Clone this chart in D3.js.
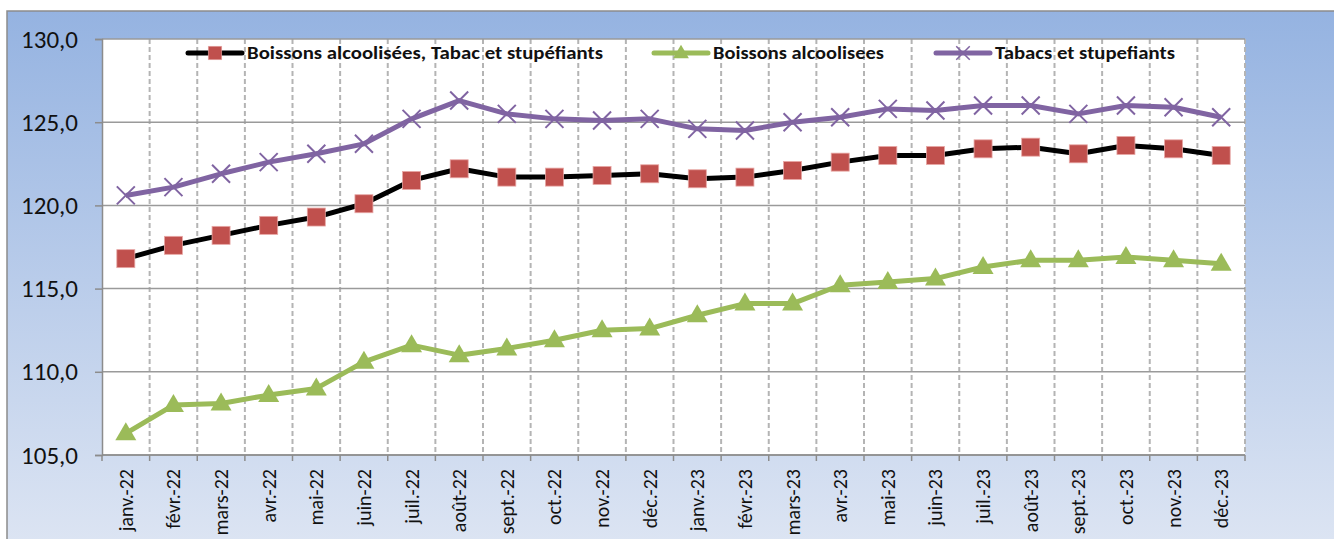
<!DOCTYPE html>
<html>
<head>
<meta charset="utf-8">
<script src="https://cdn.jsdelivr.net/npm/d3@7"></script>
<style>
  body { margin: 0; background: #fff; }
  svg { display: block; font-family: Carlito, Lato, "Open Sans", sans-serif; }
</style>
</head>
<body>
<div class="chart"></div>
<script>
const months = ["janv.-22","févr.-22","mars-22","avr.-22","mai-22","juin-22","juil.-22","août-22","sept.-22","oct.-22","nov.-22","déc.-22",
  "janv.-23","févr.-23","mars-23","avr.-23","mai-23","juin-23","juil.-23","août-23","sept.-23","oct.-23","nov.-23","déc.-23"]
const boissonsTabac = [116.8,117.6,118.2,118.8,119.3,120.1,121.5,122.2,121.7,121.7,121.8,121.9,121.6,121.7,122.1,122.6,123.0,123.0,123.4,123.5,123.1,123.6,123.4,123.0]
const boissons = [106.3,108.0,108.1,108.6,109.0,110.6,111.6,111.0,111.4,111.9,112.5,112.6,113.4,114.1,114.1,115.2,115.4,115.6,116.3,116.7,116.7,116.9,116.7,116.5]
const tabacs = [120.6,121.1,121.9,122.6,123.1,123.7,125.2,126.3,125.5,125.2,125.1,125.2,124.6,124.5,125.0,125.3,125.8,125.7,126.0,126.0,125.5,126.0,125.9,125.3]
const yTicks = [105,110,115,120,125,130]
const seriesNames = ["Boissons alcoolisées, Tabac et stupéfiants","Boissons alcoolisees","Tabacs et stupefiants"]

const W = 1334, H = 539
const margin = {top: 39, right: 89, bottom: 84, left: 102}
const width = W - margin.left - margin.right
const height = H - margin.top - margin.bottom

const svg = d3.select(".chart").append("svg").attr("width", W).attr("height", H)

const defs = svg.append("defs")
const grad = defs.append("linearGradient").attr("id","bg").attr("x1",0).attr("y1",0).attr("x2",0).attr("y2",1)
grad.append("stop").attr("offset","0%").attr("stop-color","#95b3e1")
grad.append("stop").attr("offset","100%").attr("stop-color","#dde5f3")

svg.append("rect").attr("x",7).attr("y",11).attr("width",W).attr("height",H)
  .attr("fill","url(#bg)").attr("stroke","#8c8c8c").attr("stroke-width",1.5)

const g = svg.append("g").attr("transform", `translate(${margin.left},${margin.top})`)

const x = d3.scaleBand().domain(months).range([0, width])
const y = d3.scaleLinear().domain([105,130]).range([height, 0])

g.append("rect").attr("width", width).attr("height", height).attr("fill","#fff")

// vertical dashed grid at category boundaries
g.selectAll(".vgrid").data(months).enter().append("line")
  .attr("x1", (d,i) => x.step()*(i+1)).attr("x2", (d,i) => x.step()*(i+1))
  .attr("y1", 0).attr("y2", height)
  .attr("stroke","#b4b4b4").attr("stroke-width",2).attr("stroke-dasharray","5,3")

// horizontal grid
g.selectAll(".hgrid").data(yTicks).enter().append("line")
  .attr("x1",0).attr("x2",width).attr("y1",d => y(d)).attr("y2",d => y(d))
  .attr("stroke","#9a9a9a").attr("stroke-width",1.5)

// y axis
const yAxis = g.append("g").call(d3.axisLeft(y).tickValues(yTicks).tickSize(7).tickPadding(17)
  .tickFormat(d => d3.format(".1f")(d).replace(".", ",")))
yAxis.select(".domain").attr("stroke","#8c8c8c").attr("stroke-width",1.5)
yAxis.selectAll(".tick line").attr("stroke","#8c8c8c").attr("stroke-width",1.5)
yAxis.selectAll("text").style("font-size","25px").style("fill","#111").style("font-family","Carlito, Lato, sans-serif")

// x axis with ticks at boundaries
const xAxis = g.append("g").attr("transform", `translate(0,${height})`)
xAxis.append("line").attr("x1",0).attr("x2",width).attr("stroke","#8c8c8c").attr("stroke-width",1.5)
xAxis.selectAll(".xt").data(d3.range(months.length + 1)).enter().append("line")
  .attr("x1", i => x.step()*i).attr("x2", i => x.step()*i).attr("y1",0).attr("y2",6)
  .attr("stroke","#8c8c8c").attr("stroke-width",1.5)
xAxis.selectAll(".xl").data(months).enter().append("text")
  .attr("transform", d => `translate(${x(d) + x.bandwidth()/2 + 7},14) rotate(-90)`)
  .attr("text-anchor","end")
  .style("font-size","20px").style("fill","#111")
  .text(d => d)

const line = d3.line().x((d,i) => x(months[i]) + x.bandwidth()/2).y(d => y(d))

function drawSeries(data, color, width_, marker) {
  g.append("path").datum(data).attr("d", line).attr("fill","none")
    .attr("stroke", color).attr("stroke-width", width_).attr("stroke-linejoin","round")
  const pts = g.append("g").selectAll("g").data(data).enter().append("g")
    .attr("transform", (d,i) => `translate(${x(months[i]) + x.bandwidth()/2},${y(d)})`)
  marker(pts)
}

const square = sel => sel.append("rect").attr("x",-9).attr("y",-9).attr("width",18).attr("height",18)
  .attr("fill","#c0504d").attr("stroke","#e8a7a5").attr("stroke-width",0.8)
const triangle = sel => sel.append("path").attr("d","M0,-11L10.5,7L-10.5,7Z").attr("fill","#9bbb59")
const cross = sel => sel.append("path").attr("d","M-9,-9L9,9M-9,9L9,-9").attr("stroke","#8064a2").attr("stroke-width",2).attr("fill","none")

drawSeries(boissonsTabac, "#000", 5, square)
drawSeries(boissons, "#9bbb59", 5, triangle)
drawSeries(tabacs, "#8064a2", 5, cross)

// legend
const legendItems = [
  {name: seriesNames[0], color: "#000", marker: square, x: 86, tw: 356},
  {name: seriesNames[1], color: "#9bbb59", marker: triangle, x: 552, tw: 171},
  {name: seriesNames[2], color: "#8064a2", marker: cross, x: 834, tw: 180}
]
const leg = g.selectAll(".leg").data(legendItems).enter().append("g")
  .attr("transform", d => `translate(${d.x},14)`)
leg.append("line").attr("x1",0).attr("x2",54).attr("stroke", d => d.color).attr("stroke-width",5).attr("stroke-linecap","round")
leg.each(function(d) {
  const m = d3.select(this).append("g").attr("transform","translate(27,0) scale(0.75)")
  d.marker(m)
})
leg.append("text").attr("x",59).attr("y",6)
  .attr("textLength", d => d.tw).attr("lengthAdjust","spacingAndGlyphs")
  .style("font-size","17px").style("font-weight","bold").style("fill","#111")
  .text(d => d.name)
</script>
</body>
</html>
